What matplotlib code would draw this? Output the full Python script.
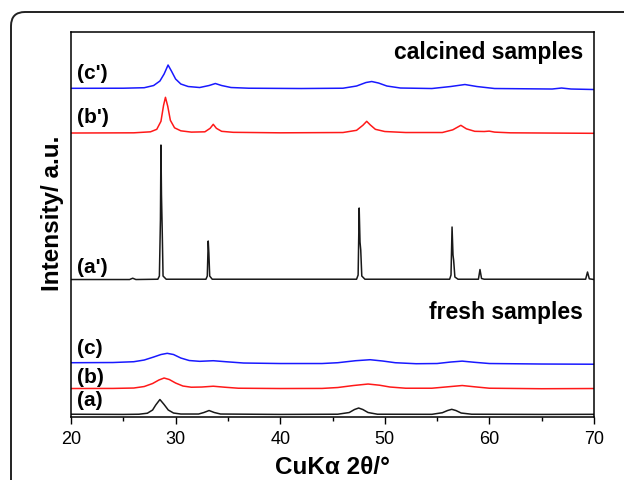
import matplotlib
matplotlib.use("Agg")
import matplotlib.pyplot as plt
from matplotlib.patches import PathPatch
from matplotlib.path import Path
from matplotlib.ticker import MultipleLocator

plt.rcParams['font.family'] = ['Liberation Sans', 'DejaVu Sans']

# === XRD patterns (2theta in degrees, intensity in a.u. above each baseline) ===
# fresh sample (a)
tt_a = [20, 25, 26.5, 27.3, 27.8, 28.1, 28.5, 28.9, 29.3, 29.8, 30.5, 32.2, 32.7, 33.2,
        33.7, 34.3, 40, 45.5, 46.6, 47.1, 47.5, 47.9, 48.4, 49.3, 54.5, 55.5, 56.0, 56.4,
        56.8, 57.3, 58.3, 65, 70]
int_a = [0.8, 0.6, 0.8, 1.8, 5, 10, 15.5, 10.5, 5, 2, 1, 1, 2.5, 4.5,
         2.5, 1, 0.6, 0.8, 2.5, 5.5, 7, 5.5, 2.5, 0.8, 0.7, 2.3, 4.5, 5.7,
         4.5, 2, 0.8, 0.6, 0.7]

# fresh sample (b)
tt_b = [20, 24, 26, 27, 27.8, 28.4, 28.9, 29.4, 30.0, 30.7, 31.5, 32.5, 33.6, 34.7, 36,
        40, 44, 45.5, 47, 48.4, 49.5, 50.5, 52, 54.5, 56, 57.4, 58.6, 60, 65, 70]
int_b = [0.5, 0.6, 1, 2.5, 5.5, 9, 11, 9.5, 6, 3, 1.8, 2, 2.8, 1.8, 0.8,
         0.5, 0.6, 1.5, 3.5, 5, 3.8, 2, 0.8, 0.8, 2.2, 3.5, 2.2, 0.8, 0.3, 0.5]

# fresh sample (c)
tt_c = [20, 24, 26, 27, 27.9, 28.6, 29.2, 29.8, 30.5, 31.3, 32.3, 33.6, 34.8, 36.5, 40,
        44, 45.5, 47.2, 48.6, 49.8, 51, 53, 55, 56.3, 57.4, 58.6, 60, 65, 70]
int_c = [1.8, 2, 2.8, 4.5, 7.5, 10, 11.2, 10, 6.5, 4, 3.2, 3.8, 2.8, 1.5, 1,
         1, 1.8, 3.8, 4.8, 3.5, 1.8, 0.8, 1, 2.5, 3.4, 2.2, 1, 0.5, 0.3]

# calcined sample (a')
tt_a2 = [20, 25.6, 25.9, 26.2, 28.3, 28.45, 28.55, 28.6, 28.65, 28.72, 28.8, 29.1,
         32.9, 33.03, 33.12, 33.18, 33.26, 33.5, 47.3, 47.45, 47.55, 47.63, 47.7, 47.8,
         48.1, 56.2, 56.33, 56.43, 56.52, 56.58, 56.7, 57, 58.95, 59.1, 59.25, 59.5,
         69.2, 69.38, 69.55, 70]
int_a2 = [0.5, 0.5, 1.8, 0.5, 0.8, 4, 60, 135, 85, 50, 4, 0.8,
          0.8, 4, 39, 27, 4, 0.8, 0.8, 5, 72, 38, 30, 4,
          0.8, 0.8, 5, 53, 25, 20, 3, 0.8, 0.8, 10.5, 1.5, 0.8,
          0.8, 8, 1.2, 0.5]

# calcined sample (b')
tt_b2 = [20, 26, 27.6, 28.2, 28.6, 28.85, 29.03, 29.25, 29.5, 29.9, 30.5, 31.5, 32.8,
         33.3, 33.6, 33.9, 34.4, 35.5, 40, 46, 47.3, 47.9, 48.27, 48.6, 49.1, 50, 52,
         55.5, 56.5, 57.27, 57.8, 58.6, 59.5, 59.98, 60.5, 62, 70]
int_b2 = [0.3, 0.5, 1.5, 4, 12, 28, 36, 27, 13, 5.5, 2.5, 1.2, 1.5,
          5, 9, 5, 2, 1, 0.5, 0.8, 3, 8, 12, 8.5, 4, 1.8, 0.8,
          0.8, 3.5, 8, 4.5, 2, 1.8, 2.2, 1.2, 0.5, 0]

# calcined sample (c')
tt_c2 = [20, 25, 27, 27.9, 28.5, 28.9, 29.28, 29.6, 30.0, 30.5, 31.2, 32.3, 33.2, 33.8,
         34.4, 35.3, 37, 42, 46, 47.3, 48.2, 48.75, 49.4, 50.2, 51.5, 54.5, 56.3, 57.66,
         58.8, 60.5, 66, 66.9, 67.8, 70]
int_c2 = [1.7, 1.8, 2.3, 4.5, 9, 16, 25, 19, 11, 6, 3.5, 2.5, 4.5, 6.5,
          4.5, 2.5, 1.8, 1.5, 1.8, 4, 7.5, 8.5, 7, 4, 2, 1.5, 3.5, 5.5,
          3.5, 1.5, 1, 2, 1, 0.5]

# vertical stacking of the patterns
offsets = {"a": 1, "b": 27, "c": 51.5, "a2": 136, "b2": 282.7, "c2": 326}

patterns = [
    (tt_a, int_a, offsets["a"], "black"),
    (tt_b, int_b, offsets["b"], "red"),
    (tt_c, int_c, offsets["c"], "blue"),
    (tt_a2, int_a2, offsets["a2"], "black"),
    (tt_b2, int_b2, offsets["b2"], "red"),
    (tt_c2, int_c2, offsets["c2"], "blue"),
]

curve_labels = ["(a)", "(b)", "(c)", "(a')", "(b')", "(c')"]
label_y = [16, 39, 68, 149, 299, 343]

fig = plt.figure(figsize=(6.25, 4.8), dpi=100)
ax = fig.add_axes([0.1136, 0.1312, 0.8368, 0.8021])

for (tt, inten, off, col) in patterns:
    ax.plot(tt, [v + off for v in inten], color=col, lw=1.1, alpha=0.9)

for lab, y in zip(curve_labels, label_y):
    ax.text(20.55, y, lab, fontsize=15, fontweight='bold', ha='left', va='center')

ax.text(68.95, 364, "calcined samples", fontsize=16.5, fontweight='bold', ha='right', va='center')
ax.text(68.95, 104, "fresh samples", fontsize=16.5, fontweight='bold', ha='right', va='center')

ax.set_xlim(20, 70)
ax.set_ylim(-1, 384)
ax.xaxis.set_major_locator(MultipleLocator(10))
ax.xaxis.set_minor_locator(MultipleLocator(5))
ax.set_yticks([])
ax.tick_params(axis='x', which='major', direction='out', length=5, width=1, labelsize=13, pad=5)
ax.tick_params(axis='x', which='minor', direction='out', length=3, width=1)
for sp in ax.spines.values():
    sp.set_linewidth(1.1)

ax.set_xlabel("CuKα 2θ/°", fontsize=17.5, fontweight='bold', labelpad=6)
ax.set_ylabel("Intensity/ a.u.", fontsize=17.5, fontweight='bold')
ax.yaxis.label.set_va('center')
ax.yaxis.set_label_coords(-0.036, 0.53)

# open rounded frame: left edge, top-left corner and top edge (pixel coords)
r = 14
frame_path = Path(
    [(11, 0), (11, 468 - r), (11, 468), (11 + r, 468), (624, 468)],
    [Path.MOVETO, Path.LINETO, Path.CURVE3, Path.CURVE3, Path.LINETO],
)
fig.add_artist(PathPatch(frame_path, transform=None, fill=False,
                         edgecolor='#222222', lw=1.4))

fig.savefig("out.png", dpi=100)
